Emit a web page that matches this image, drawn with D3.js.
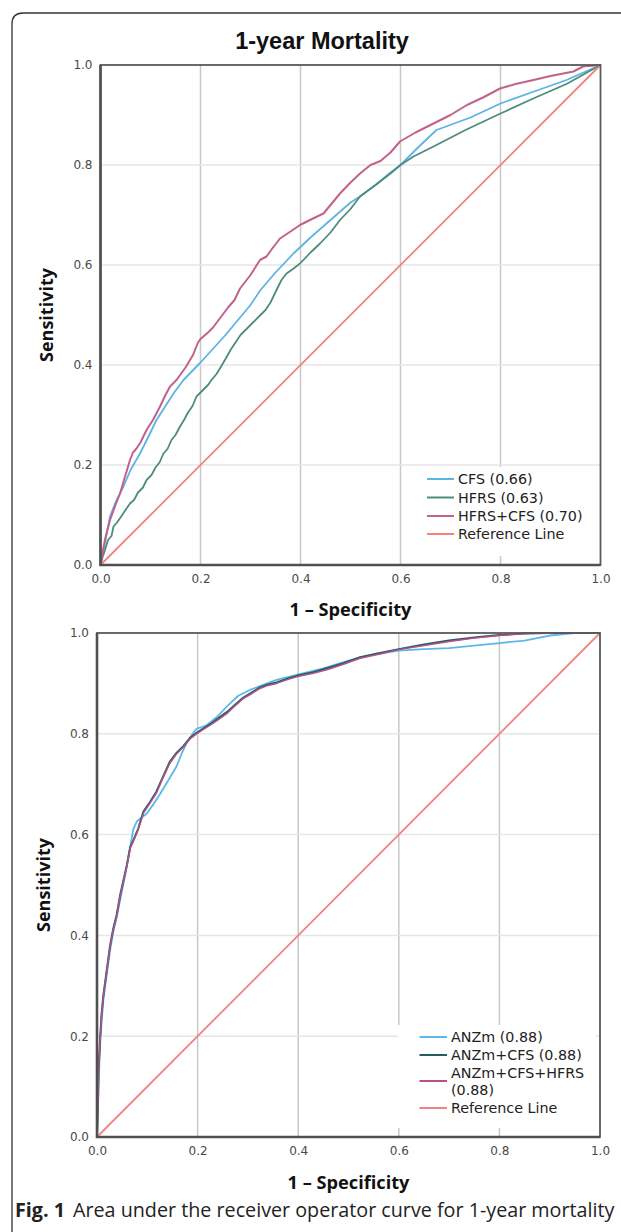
<!DOCTYPE html>
<html><head><meta charset="utf-8">
<script src="https://cdn.jsdelivr.net/npm/d3@7"></script>
<style>html,body{margin:0;padding:0;background:#fff;}svg{display:block;}</style>
</head><body>
<svg id="c" width="621" height="1232"></svg>
<script>
// ---------- DATA ----------
const ticks = [0, 0.2, 0.4, 0.6, 0.8, 1.0];
const gridTicks = [0.2, 0.4, 0.6, 0.8];

// Top panel: 1-year Mortality
const topLabels = ["CFS (0.66)", "HFRS (0.63)", "HFRS+CFS (0.70)", "Reference Line"];
const cfs = [[0,0],[0.01,0.05],[0.019,0.097],[0.03,0.125],[0.046,0.157],[0.06,0.19],[0.079,0.223],[0.095,0.255],[0.112,0.29],[0.13,0.318],[0.146,0.343],[0.166,0.37],[0.2,0.405],[0.25,0.46],[0.3,0.52],[0.32,0.55],[0.35,0.585],[0.386,0.623],[0.42,0.655],[0.46,0.69],[0.5,0.725],[0.519,0.737],[0.55,0.76],[0.58,0.785],[0.6,0.80],[0.635,0.835],[0.672,0.87],[0.74,0.895],[0.8,0.923],[0.87,0.948],[0.932,0.97],[1,1]];
const hfrs = [[0,0],[0.004,0.015],[0.009,0.03],[0.015,0.05],[0.022,0.058],[0.026,0.077],[0.033,0.085],[0.04,0.095],[0.05,0.11],[0.059,0.123],[0.067,0.13],[0.075,0.145],[0.085,0.155],[0.092,0.17],[0.102,0.18],[0.11,0.195],[0.118,0.205],[0.126,0.223],[0.134,0.232],[0.142,0.25],[0.15,0.26],[0.159,0.277],[0.167,0.29],[0.175,0.305],[0.184,0.318],[0.192,0.337],[0.205,0.35],[0.215,0.36],[0.222,0.37],[0.232,0.382],[0.24,0.395],[0.25,0.412],[0.26,0.43],[0.27,0.445],[0.28,0.46],[0.3,0.48],[0.32,0.5],[0.33,0.51],[0.34,0.525],[0.352,0.55],[0.362,0.57],[0.372,0.583],[0.385,0.592],[0.399,0.603],[0.42,0.625],[0.439,0.643],[0.46,0.665],[0.479,0.69],[0.5,0.712],[0.519,0.737],[0.55,0.76],[0.58,0.783],[0.6,0.80],[0.626,0.817],[0.666,0.837],[0.73,0.87],[0.8,0.903],[0.87,0.935],[0.932,0.962],[1,1]];
const hfrsCfs = [[0,0],[0.005,0.03],[0.01,0.055],[0.019,0.09],[0.03,0.12],[0.039,0.143],[0.05,0.18],[0.059,0.21],[0.065,0.225],[0.072,0.233],[0.08,0.245],[0.092,0.27],[0.105,0.29],[0.119,0.317],[0.13,0.34],[0.139,0.357],[0.152,0.37],[0.17,0.395],[0.185,0.42],[0.195,0.445],[0.2,0.452],[0.215,0.465],[0.225,0.475],[0.24,0.495],[0.255,0.515],[0.268,0.53],[0.279,0.553],[0.3,0.58],[0.319,0.61],[0.332,0.617],[0.345,0.635],[0.359,0.653],[0.38,0.667],[0.399,0.68],[0.425,0.693],[0.446,0.703],[0.46,0.72],[0.479,0.743],[0.5,0.765],[0.519,0.783],[0.54,0.8],[0.56,0.808],[0.58,0.825],[0.599,0.847],[0.63,0.865],[0.666,0.883],[0.7,0.9],[0.733,0.92],[0.765,0.935],[0.799,0.953],[0.83,0.962],[0.866,0.97],[0.9,0.978],[0.946,0.987],[0.965,0.997],[1,1]];
const refLine = [[0,0],[1,1]];

// Bottom panel
const botLabels = ["ANZm (0.88)", "ANZm+CFS (0.88)", ["ANZm+CFS+HFRS", "(0.88)"], "Reference Line"];
const anzm = [[0,0],[0.002,0.06],[0.004,0.13],[0.007,0.2],[0.0125,0.27],[0.019,0.32],[0.026,0.37],[0.032,0.405],[0.04,0.44],[0.047,0.475],[0.058,0.53],[0.066,0.575],[0.072,0.61],[0.079,0.626],[0.09,0.635],[0.099,0.642],[0.112,0.66],[0.125,0.68],[0.14,0.705],[0.158,0.735],[0.168,0.76],[0.178,0.781],[0.19,0.8],[0.198,0.81],[0.218,0.817],[0.24,0.835],[0.258,0.854],[0.28,0.875],[0.304,0.887],[0.33,0.897],[0.357,0.907],[0.397,0.917],[0.45,0.93],[0.5,0.945],[0.55,0.957],[0.6,0.965],[0.65,0.968],[0.7,0.97],[0.75,0.975],[0.8,0.98],[0.85,0.985],[0.9,0.995],[0.95,1],[1,1]];
const anzmCfs = [[0,0],[0.002,0.072],[0.003,0.13],[0.006,0.192],[0.009,0.243],[0.0125,0.28],[0.019,0.328],[0.026,0.38],[0.032,0.412],[0.039,0.44],[0.046,0.48],[0.059,0.538],[0.066,0.575],[0.072,0.588],[0.082,0.612],[0.092,0.645],[0.105,0.664],[0.118,0.685],[0.13,0.712],[0.145,0.745],[0.158,0.762],[0.172,0.776],[0.185,0.792],[0.198,0.802],[0.21,0.81],[0.225,0.819],[0.24,0.83],[0.258,0.843],[0.275,0.858],[0.291,0.872],[0.308,0.882],[0.324,0.892],[0.34,0.898],[0.357,0.902],[0.38,0.91],[0.397,0.915],[0.43,0.922],[0.457,0.93],[0.49,0.94],[0.523,0.952],[0.56,0.96],[0.6,0.968],[0.65,0.977],[0.7,0.985],[0.75,0.991],[0.8,0.996],[0.85,0.999],[0.9,1],[1,1]];
const anzmCfsHfrs = [[0,0],[0.002,0.07],[0.003,0.127],[0.006,0.19],[0.009,0.24],[0.0125,0.278],[0.019,0.325],[0.026,0.378],[0.032,0.41],[0.039,0.437],[0.046,0.477],[0.059,0.536],[0.066,0.573],[0.072,0.586],[0.082,0.61],[0.092,0.642],[0.105,0.662],[0.118,0.682],[0.13,0.71],[0.145,0.742],[0.158,0.76],[0.172,0.774],[0.185,0.79],[0.198,0.8],[0.21,0.808],[0.225,0.817],[0.24,0.827],[0.258,0.84],[0.275,0.856],[0.291,0.87],[0.308,0.88],[0.324,0.89],[0.34,0.896],[0.357,0.9],[0.38,0.908],[0.397,0.913],[0.43,0.92],[0.457,0.927],[0.49,0.938],[0.523,0.95],[0.56,0.958],[0.6,0.967],[0.65,0.975],[0.7,0.983],[0.75,0.99],[0.8,0.995],[0.85,0.999],[0.9,1],[1,1]];

const title = "1-year Mortality";
const xTitle = "1 \u2013 Specificity";
const yTitle = "Sensitivity";

// ---------- DRAW ----------
const svg = d3.select("#c");
const C = {blue:"#5cb3e4", green:"#4d8c7d", pink:"#c2628c", ref:"#f4837f",
           blue2:"#5ab8ec", teal:"#235f5f", pink2:"#b4508a"};

function fitWidth(sel, base, target){
  const w = sel.node().getComputedTextLength();
  sel.attr("font-size", base*target/w);
}

// outer frame
svg.append("path")
  .attr("d", "M12,1232 L12,24 Q12,13 23,13 L621,13")
  .attr("fill","none").attr("stroke","#333").attr("stroke-width",1.3);

svg.append("text").attr("x",322).attr("y",49).attr("text-anchor","middle")
  .attr("font-family","Liberation Sans, Arial, sans-serif").attr("font-weight","bold")
  .attr("font-size",23.5).attr("fill","#111").text(title);

function panel(cfg){
  const x = d3.scaleLinear().domain([0,1]).range(cfg.xr);
  const y = d3.scaleLinear().domain([0,1]).range(cfg.yr);
  const g = svg.append("g");
  // grid
  g.selectAll(".gv").data(gridTicks).join("line")
    .attr("x1",d=>x(d)).attr("x2",d=>x(d)).attr("y1",y(0)).attr("y2",y(1))
    .attr("stroke","#c8c8c8").attr("stroke-width",1.5);
  g.selectAll(".gh").data(gridTicks).join("line")
    .attr("y1",d=>y(d)).attr("y2",d=>y(d)).attr("x1",x(0)).attr("x2",x(1))
    .attr("stroke","#e6e6e6").attr("stroke-width",1.5);
  // legend box
  g.append("rect").attr("x",cfg.lb[0]).attr("y",cfg.lb[1])
    .attr("width",cfg.lb[2]).attr("height",cfg.lb[3]).attr("fill","#fff");
  // curves
  const line = d3.line().x(d=>x(d[0])).y(d=>y(d[1]));
  cfg.series.forEach(s=>{
    g.append("path").datum(s.data).attr("d",line).attr("fill","none")
      .attr("stroke",s.color).attr("stroke-width",s.w||1.8).attr("stroke-linejoin","round");
  });
  // frame
  g.append("rect").attr("x",x(0)).attr("y",y(1)).attr("width",x(1)-x(0)).attr("height",y(0)-y(1))
    .attr("fill","none").attr("stroke","#5a5a5a").attr("stroke-width",1.8);
  g.append("path").attr("d",`M${x(0)},${y(1)} L${x(0)},${y(0)} L${x(1)},${y(0)}`)
    .attr("fill","none").attr("stroke","#505050").attr("stroke-width",2.6);
  // axes labels
  const ya = g.append("g").attr("transform",`translate(${x(0)-5},0)`)
    .call(d3.axisLeft(y).tickValues(ticks).tickSize(0).tickFormat(d3.format(".1f")));
  const xa = g.append("g").attr("transform",`translate(0,${y(0)+6})`)
    .call(d3.axisBottom(x).tickValues(ticks).tickSize(0).tickFormat(d3.format(".1f")));
  [ya,xa].forEach(a=>{ a.select(".domain").remove();
    a.selectAll("text").attr("font-family","DejaVu Sans, sans-serif").attr("font-size",12).attr("fill","#4a4a4a"); });
  const xt = g.append("text").attr("x",(x(0)+x(1))/2).attr("y",cfg.xtY).attr("text-anchor","middle")
    .attr("font-family","Open Sans, sans-serif").attr("font-weight","bold").attr("font-size",17.5)
    .attr("fill","#111").text(xTitle);
  fitWidth(xt, 17.5, 122);
  const yt = g.append("text").attr("transform",`translate(${cfg.ytX},${(y(0)+y(1))/2}) rotate(-90)`)
    .attr("text-anchor","middle")
    .attr("font-family","Open Sans, sans-serif").attr("font-weight","bold").attr("font-size",17.5)
    .attr("fill","#111").text(yTitle);
  fitWidth(yt, 17.5, 94);
  // legend
  const lg = g.append("g");
  cfg.legend.forEach(L=>{
    lg.append("line").attr("x1",cfg.lx[0]).attr("x2",cfg.lx[1]).attr("y1",L.ly).attr("y2",L.ly)
      .attr("stroke",L.color).attr("stroke-width",2);
    const lines = Array.isArray(L.label)?L.label:[L.label];
    lines.forEach((t,i)=>{
      lg.append("text").attr("x",cfg.lx[1]+4).attr("y",L.ty+i*16.5).attr("dy","0.35em")
        .attr("font-family","DejaVu Sans, sans-serif").attr("font-size",14.3).attr("fill","#222").text(t);
    });
  });
}

panel({
  xr:[100.5,600.5], yr:[565,65], xtY:616, ytX:53,
  lb:[412,467,186,89],
  series:[{data:cfs,color:C.blue},{data:hfrs,color:C.green},{data:hfrsCfs,color:C.pink,w:2},{data:refLine,color:C.ref}],
  lx:[427,454],
  legend:[
    {label:topLabels[0],color:C.blue,ly:479,ty:479},
    {label:topLabels[1],color:C.green,ly:497.5,ty:497.5},
    {label:topLabels[2],color:C.pink,ly:516,ty:516},
    {label:topLabels[3],color:C.ref,ly:534,ty:534}]
});

panel({
  xr:[97,600], yr:[1137,633], xtY:1189, ytX:50,
  lb:[398,1025,198,103],
  series:[{data:anzm,color:C.blue2},{data:anzmCfs,color:C.teal,w:2},{data:anzmCfsHfrs,color:C.pink2,w:1.5},{data:refLine,color:C.ref}],
  lx:[419.5,447],
  legend:[
    {label:botLabels[0],color:C.blue2,ly:1037,ty:1037},
    {label:botLabels[1],color:C.teal,ly:1055,ty:1055},
    {label:botLabels[2],color:C.pink2,ly:1081,ty:1073},
    {label:botLabels[3],color:C.ref,ly:1108,ty:1108}]
});

// caption
const cap = svg.append("text").attr("x",15).attr("y",1217)
  .attr("font-family","Open Sans, sans-serif").attr("font-size",16).attr("fill","#222");
cap.append("tspan").attr("font-weight","bold").text("Fig. 1");
cap.append("tspan").attr("dx",8).text("Area under the receiver operator curve for 1-year mortality");
fitWidth(cap, 16, 592);
</script>
</body></html>
